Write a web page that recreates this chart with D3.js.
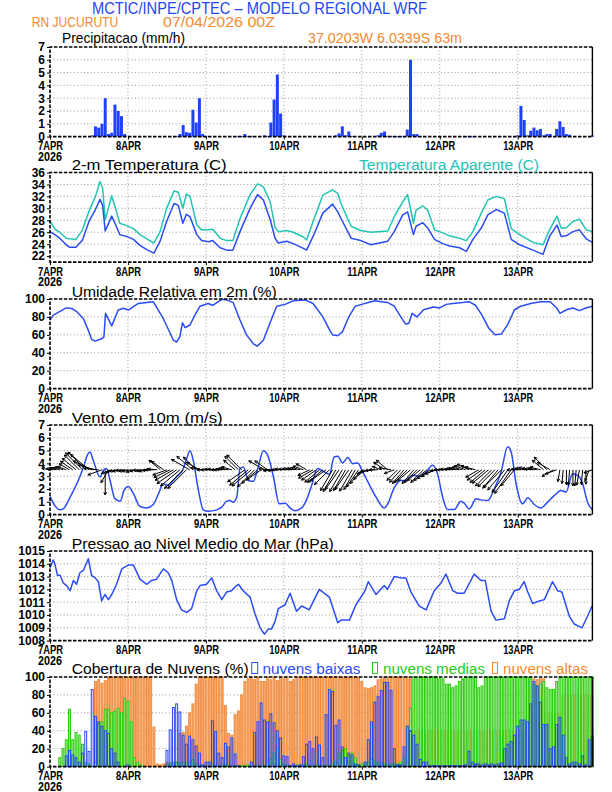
<!DOCTYPE html>
<html>
<head>
<meta charset="utf-8">
<title>Meteograma WRF - RN Jucurutu</title>
<script src="https://d3js.org/d3.v7.min.js"></script>
<style>
body{margin:0;background:#fff;}
svg{display:block;}
text{font-family:"Liberation Sans", Arial, sans-serif;}
.tick text{font-weight:bold;font-size:12px;fill:#000;}
.tick line{stroke:#000;}
.grid line{stroke:#9a9a9a;stroke-width:1;stroke-dasharray:1,2.4;}
</style>
</head>
<body>
<svg id="chart" width="612" height="792"></svg>
<script>

// ---- data (hours since 07APR2026 00Z) ----
var dayHours = [0, 24, 48, 72, 96, 120, 144];
var dayLabels = ['7APR', '8APR', '9APR', '10APR', '11APR', '12APR', '13APR'];
var yearLabel = '2026';

// hourly precipitation (mm/h)
var precip = [
0,0,0,0,0,0,0,0,0,0,0,0,0,0.1,0.8,0.7,1.0,3.0,0.2,0.3,2.5,2.0,1.6,0.2,
0,0,0,0,0,0,0,0,0,0,0,0,0,0,0,0.05,0.2,0.9,0.35,0.3,2.1,1.1,3.0,0.2,
0.05,0,0,0,0,0,0,0,0,0,0.05,0.05,0.2,0.05,0.05,0,0,0,0.1,0.05,1.1,2.9,4.85,1.8,
0.1,0,0,0,0,0,0,0,0,0,0,0.02,0,0,0,0,0.1,0.25,0.8,0.1,0.4,0.05,0,0,
0,0,0,0,0,0.1,0.3,0.4,0.05,0.05,0.02,0.02,0.02,0.02,0.55,6.0,0.2,0.2,0.05,0,0,0,0,0,
0,0,0,0,0,0,0,0,0.02,0.02,0.02,0,0,0,0,0,0,0,0,0,0,0,0,0,
0.1,2.4,1.3,0.1,0.45,0.7,0.5,0.6,0.1,0.2,0.2,0,0.6,1.2,0.75,0.2,0.15,0,0,0,0,0,0,0.1
];

// 2 m temperature and apparent temperature (C)
var tempHours = [0,1.5,3,5,6,8,10,12,14,15.4,16.2,17,19,20,21.5,23.6,25.7,27.7,29.8,32,
33.9,35.9,38.2,39.5,40.9,42,43.1,45.2,46.7,48.8,50.1,52.4,54.4,56.3,58.5,61.6,63.9,65.7,67.8,69.3,
70.3,72.9,74.9,78,79,81,84,87,88.6,89.6,92.7,95.7,98.8,104,106,108.6,110.1,111.9,112.7,114.8,
116.3,118.4,120.9,123,126.1,128.2,130.2,132.8,134.8,137.4,139.9,142,144.6,148.7,151.8,153.8,156.1,157.4,158.9,161,
163,165.1,167];
var temp = [26.1,25.6,25.0,23.9,23.5,23.5,24.7,27.8,29.8,31.5,30.5,26.2,28.7,27.5,25.6,25.3,24.8,23.8,23.1,22.5,
24.5,27.8,30.8,30.5,27.5,29.0,28.6,25.6,24.6,24.4,24.6,23.4,23.0,23.0,26.1,30.0,32.3,31.4,28.1,25.0,
24.2,24.5,24.1,23.3,23.0,25.3,29.2,30.7,29.4,28.3,25.0,24.6,23.9,24.5,26.1,28.9,29.4,25.6,27.0,27.6,
26.7,24.8,24.1,23.7,23.4,22.8,24.8,26.7,28.9,29.8,29.2,24.8,23.9,23.0,22.3,25.3,27.2,25.3,25.4,26.1,
26.4,24.9,24.3];
var tempAp = [27.9,26.5,26.0,25.0,24.9,24.8,26.4,29.5,32.0,34.5,33.4,28.1,32.1,30.3,27.5,27.1,26.6,25.6,24.9,24.2,
26.1,30.0,32.9,32.7,30.0,32.4,32.0,27.2,26.4,26.4,26.5,25.0,24.6,24.6,28.3,32.3,34.1,33.6,31.1,26.8,
26.1,26.3,26.0,25.2,24.7,27.8,32.2,33.1,32.5,30.8,27.0,26.3,26.0,26.2,28.6,31.1,32.3,27.5,29.7,30.4,
29.7,26.4,25.9,25.4,25.0,24.6,26.1,29.2,31.4,32.0,31.6,26.6,25.6,24.3,23.9,26.4,28.7,26.7,26.7,27.8,
28.2,26.4,26.1];

// relative humidity at 2 m (%)
var rhHours = [0,1,5,6.7,8.2,10.3,11.8,12.8,13.9,15.9,16.6,17.1,19,21,22.6,24.1,27.2,31.8,34.9,38,
39,40,40.8,41.6,43.1,44.6,46.2,48.7,50.1,52.9,54.4,56.4,58.5,60.5,62.6,63.8,65.7,67.7,69.8,72.4,
74.9,78.5,81,84,86,87,88.5,90,92,94,96,98,100,102,104,106,108,109.5,110.5,111.5,
113,115,118,120,122,124,127,129,131,133,135,137,139,141,143,145,148,151,154,156,
157,159,161,163,165,167];
var rh = [76.5,82,90,89.5,86,78,65,55,53,55.6,57.8,84,70,87.7,89.6,87.7,95,97,78,54,
52,58,73.5,68,71,82,92,95,93,99.6,99,96,76.5,60,50,47.4,54,73,92,94,
98,99,95,80,66,60,59,63,80,92,94,96,98,97,96,92,80,72,73,84,
80,88,91,90,94,95,96,97,93,82,68,60,61,72,88,92,95,97,97,90,
84,88,90,87,90,92];

// 10 m wind speed (m/s)
var windHours = [0,1.5,3.1,4.1,6.2,8.7,10.3,11.5,12.3,13.3,15.4,16.4,17.4,18.5,20,21.6,22.8,24.1,25.7,27.7,
29.8,31.8,33.4,34.9,36.4,38,39.5,40.8,42.1,43.1,44.1,45.7,47.2,48.7,51.3,52.9,54.4,55.4,56.4,57.5,
58.5,59.5,61.1,62.6,64.1,65.7,67.2,68.8,70.6,72.4,73.9,75.4,77.5,78.8,80.4,82.4,84.5,86,87.5,88.6,
90.1,91.7,93.2,94.7,96.3,97.8,100.4,102.9,103.9,106,108,109.6,111.7,113.7,115.8,117.8,119.3,120.9,122.4,124.5,
126.5,127.5,129.1,131.2,132.7,134.8,136.8,138.9,140.9,142,143.5,145.5,147.1,149.1,151.2,152.7,155.3,157.4,158.9,160.9,
162.5,164,165.5,166.9];
var wind = [1.42,0.7,0.37,0.45,1.36,2.67,3.7,4.64,4.9,4.25,2.94,3.46,3.6,2.67,1.23,1.05,1.89,2.2,1.63,0.63,
0.52,0.79,1.63,2.41,2.28,2.67,3.07,3.46,4.38,4.98,4.25,1.89,0.37,0.26,0.37,0.58,1.05,1.1,0.97,1.36,
3.6,3.72,2.67,2.6,3.72,4.98,4.51,2.94,0.84,0.89,0.52,0.31,0.52,1.05,2.15,3.6,3.33,3.15,4.5,4.56,
4.04,4.46,3.98,4.04,3.33,2.6,1.36,0.52,0.79,2.1,2.67,2.67,3.07,2.99,3.33,3.85,3.2,1.36,0.39,0.39,
1.05,0.89,0.45,1.23,1.15,1.1,2.02,3.33,5.3,4.9,2.41,0.84,1.31,0.79,0.52,0.84,1.5,1.89,1.76,3.2,
3.07,2.41,0.97,0.39];

// hourly wind vectors: pointing angle (deg, 0 = east, counter-clockwise) and magnitude
var vecDir = [
170,170,165,165,160,160,150,145,140,135,135,135,140,155,165,175,200,270,240,200,195,190,190,185,
190,190,195,190,185,190,190,185,180,175,140,145,200,205,210,215,220,225,225,150,140,135,150,170,
180,180,175,175,180,180,175,170,165,140,135,135,215,220,220,225,220,215,150,145,175,185,185,180,
175,175,170,170,170,165,160,150,205,210,215,220,220,215,225,240,240,235,240,240,235,240,240,235,
230,220,200,190,185,180,160,145,140,170,200,225,228,230,225,220,230,225,220,225,220,215,210,200,
185,180,180,175,175,170,170,165,160,155,160,165,210,215,220,220,225,225,230,225,230,235,235,230,
180,175,170,165,170,175,170,165,140,135,150,210,200,260,265,270,265,270,265,260,265,270,250,200
];
var vecMag = [
1.4,1.2,1.2,1.3,1.4,1.6,2,2.5,3,3.5,4,4.2,4,3.5,3,2.5,2.5,4.2,2.5,1.8,1.5,1.5,1.5,1.5,
1.5,1.5,1.4,1.3,1.3,1.3,1.4,1.4,1.5,1.6,2.5,2.5,2.5,3,3.5,4,4.2,4.4,4.4,3.5,3.5,3,2.5,2,
1.5,1.4,1.3,1.3,1.3,1.4,1.5,1.6,1.8,2.5,3.2,3.5,3.5,4,4.2,4,3.5,3,3,2.6,2,1.8,1.6,1.5,
1.5,1.4,1.3,1.3,1.4,1.5,1.8,2,2.2,2.8,3,3.2,3.3,3.3,3.5,4,4.2,4,4.2,4,4,4.1,3.8,3.5,
3,2.5,2,1.8,1.6,1.5,1.6,2.2,2.5,2,1.8,2.5,2.8,3,3,2.8,3,3,2.8,3,2.8,2.6,2.3,2,
1.6,1.5,1.5,1.5,1.4,1.5,1.6,1.8,2,2.2,2,1.8,2.5,3,3.3,3.5,3.8,4,4,4.2,4.4,4.6,4.8,3.5,
1.8,1.6,1.5,1.5,1.5,1.6,1.6,1.8,2.5,3,2.5,2.2,2,2,2.3,2.5,2.6,2.7,2.7,2.6,2.5,2.4,2,1.5
];

// mean sea level pressure (hPa)
var presHours = [0,1,1.5,2.3,3.1,4.1,5.1,6.2,7.2,8.2,9.2,10.3,11.8,12.8,13.9,14.9,15.9,16.9,18,19,
20.5,22.1,24.1,25.7,27.7,29.8,31.3,32.8,34.9,36.4,37.5,39,40.5,42.1,43.6,45.2,46.2,48.2,49.8,51.3,
52.9,54.4,55.9,57,58,59.5,61.6,63.1,64.7,66,67.2,68.2,69.3,70.3,72.4,73.9,75.9,77.5,79.8,82.9,
86,88.6,89.6,92.2,94.2,96.8,98,100.4,102.9,103.9,106,108,109.6,111.1,113.7,115.8,118.3,120.4,121.9,124,
125.5,127.5,130.6,132.7,134,135.8,137.3,139.9,141.4,143,144.5,146,147.1,148.6,150.7,152.2,154.7,156.3,157.6,159.9,
161.4,163.8,165.5,166.9];
var pres = [1013.7,1014.3,1014.0,1013.1,1013.1,1012.5,1012.3,1011.9,1012.7,1012.4,1013.3,1013.5,1014.4,1013.1,1012.9,1012.6,1011.1,1011.6,1011.2,1011.6,
1012.4,1013.6,1013.9,1013.9,1012.8,1012.4,1012.7,1012.8,1013.6,1013.3,1012.7,1011.2,1010.4,1010.2,1010.5,1011.9,1012.3,1012.4,1012.9,1011.9,
1011.2,1011.8,1011.9,1012.2,1012.4,1011.9,1011.4,1010.1,1009.0,1008.5,1008.9,1008.9,1009.5,1010.5,1010.8,1011.7,1010.3,1010.7,1010.4,1012.0,
1011.4,1009.4,1009.6,1009.6,1010.8,1011.8,1012.6,1011.6,1012.3,1012.0,1013.0,1012.9,1012.9,1011.8,1010.7,1010.4,1011.9,1012.5,1013.2,1011.9,
1011.7,1011.7,1013.2,1012.7,1012.7,1010.3,1009.6,1009.7,1011.1,1011.9,1012.0,1012.6,1011.8,1010.9,1011.1,1011.2,1012.6,1011.9,1011.8,1009.9,
1009.3,1009.0,1009.9,1010.7];

// hourly cloud cover (%)
var cloudHigh = [
0,0,0,0,0,0,0,0,0,0,0,0,0,0,95,97,93,96,100,100,100,100,100,100,
100,100,100,100,100,100,100,100,44,3,2,3,5,3,2,5,37,38,45,60,70,92,100,100,
100,100,100,100,100,100,68,37,35,58,62,80,95,98,100,97,100,95,95,100,97,100,96,100,
98,100,95,97,100,100,100,100,100,100,100,100,100,100,100,100,100,100,100,100,100,100,100,100,
95,88,87,88,90,97,98,100,100,100,100,100,100,100,100,98,40,40,40,40,40,40,40,40,
40,40,40,40,40,40,40,40,40,40,40,40,40,40,40,40,40,40,40,40,40,40,40,40,
40,40,40,40,98,98,97,98,98,60,60,60,60,60,80,80,80,80,80,80,80,80,80,80
];
var cloudMid = [
0,0,0,10,20,30,64,30,38,35,25,5,3,0,5,48,50,64,64,60,62,65,60,76,
73,50,10,5,2,0,0,0,0,0,0,0,2,4,5,5,4,5,3,5,8,3,2,1,
1,1,2,1,1,1,2,1,1,1,1,1,1,2,1,1,1,1,1,5,8,15,20,8,
3,2,1,1,2,1,2,3,2,1,2,2,1,2,2,2,5,15,18,20,12,15,10,2,
3,4,5,8,6,5,4,3,3,3,3,3,5,10,45,65,100,100,100,100,100,100,100,100,
98,98,92,92,88,90,95,98,100,100,100,100,88,90,100,100,100,100,100,100,100,100,100,100,
100,100,100,100,100,92,90,92,95,88,86,86,95,100,100,100,100,100,100,100,100,100,100,100
];
var cloudLow = [
0,0,0,0,0,12,18,13,10,5,15,39,17,86,56,50,45,40,37,20,15,5,0,0,
2,0,0,0,0,0,0,0,0,0,0,0,18,41,66,70,61,35,25,34,30,23,15,2,
5,5,51,39,15,10,26,22,32,14,1,0,0,0,5,38,50,71,52,50,59,49,40,32,
12,11,1,3,1,2,11,25,28,20,33,24,10,58,86,84,46,52,22,10,15,13,3,2,
0,5,30,50,72,78,85,94,94,85,20,2,2,22,45,40,35,25,8,5,5,1,1,1,
1,1,1,1,1,1,1,1,2,17,5,3,3,2,3,2,3,2,3,4,20,25,28,35,
45,52,52,50,70,95,90,72,47,47,20,22,47,55,35,10,3,5,5,3,12,2,30,34
];

// ---- layout ----
var blueC = '#2b4cf2', cyanC = '#22c4b4', orangeC = '#f58a32', greenC = '#22cc22';
var x0 = 50, x1 = 592.4, panelH = 89.6;
var panelTop = [47, 172.5, 299, 425, 551, 677];

var svg = d3.select('#chart');
var x = d3.scaleLinear().domain([0, 167]).range([x0, x1]);

function txt(s, tx, ty, size, color, w) {
	var t = svg.append('text').attr('x', tx).attr('y', ty)
		.attr('font-size', size).attr('fill', color).text(s);
	if (w) t.attr('textLength', w).attr('lengthAdjust', 'spacingAndGlyphs');
	return t;
}

function makePanel(i, domain, ticks) {
	var top = panelTop[i], bot = top + panelH;
	var y = d3.scaleLinear().domain(domain).range([bot, top]);
	var g = svg.append('g');

	g.append('g').attr('class', 'grid').selectAll('line')
		.data(ticks.filter(function(t){ return t > domain[0] && t < domain[1]; }))
		.enter().append('line')
			.attr('x1', x0).attr('x2', x1).attr('y1', y).attr('y2', y);
	g.append('g').attr('class', 'grid').selectAll('line')
		.data(dayHours.slice(1))
		.enter().append('line')
			.attr('x1', x).attr('x2', x).attr('y1', top).attr('y2', bot);

	var marks = g.append('g');

	var ya = g.append('g').attr('transform', 'translate(' + x0 + ',0)')
		.call(d3.axisLeft(y).tickValues(ticks).tickSize(3).tickPadding(2).tickFormat(d3.format('d')));
	ya.select('.domain').remove();

	var xa = g.append('g').attr('transform', 'translate(0,' + bot + ')')
		.call(d3.axisBottom(x).tickValues(dayHours).tickSize(3).tickPadding(2)
			.tickFormat(function(d, k){ return dayLabels[k]; }));
	xa.select('.domain').remove();
	xa.selectAll('text').attr('font-size', 13)
		.attr('textLength', function(d, k){ return dayLabels[k].length > 4 ? 30 : 25; })
		.attr('lengthAdjust', 'spacingAndGlyphs');

	g.append('text').attr('x', 38).attr('y', bot + 24)
		.attr('font-size', 13).attr('font-weight', 'bold')
		.attr('textLength', 24).attr('lengthAdjust', 'spacingAndGlyphs')
		.text(yearLabel);

	// frame
	var fr = g.append('g').attr('fill', 'none').attr('stroke', '#000');
	fr.append('path').attr('d', 'M' + x1 + ',' + top + 'H' + x0 + 'V' + bot + 'H' + x1)
		.attr('stroke-width', 1.6).attr('stroke-dasharray', '3.5,1.5');
	fr.append('path').attr('d', 'M' + x1 + ',' + top + 'V' + bot).attr('stroke-width', 1.4);

	return {marks: marks, y: y, top: top, bot: bot};
}

function drawLine(p, hours, vals, color, curve) {
	var line = d3.line()
		.x(function(d, k){ return x(hours[k]); })
		.y(function(d){ return p.y(d); });
	if (curve) line.curve(curve);
	p.marks.append('path').datum(vals)
		.attr('d', line).attr('fill', 'none')
		.attr('stroke', color).attr('stroke-width', 1.5)
		.attr('stroke-linejoin', 'round');
}

var hoursAll = d3.range(precip.length);
var bw = x(0.92) - x(0);

// ---- header ----
txt('MCTIC/INPE/CPTEC \u2013 MODELO REGIONAL WRF', 92, 13.5, 16, '#2346f5', 335);
txt('RN JUCURUTU', 31.7, 26.7, 14, orangeC, 86.5);
txt('07/04/2026 00Z', 163, 26.7, 14, orangeC, 112);
txt('Precipitacao (mm/h)', 62, 43, 14, '#000', 123);
txt('37.0203W 6.0339S 63m', 308, 42.7, 14, orangeC, 154);

// ---- 1 precipitation ----
var p1 = makePanel(0, [0, 7], d3.range(0, 8));
precip.forEach(function(d, k){
	if (d <= 0) return;
	p1.marks.append('rect')
		.attr('x', x(hoursAll[k]) - bw / 2).attr('width', bw)
		.attr('y', p1.y(d)).attr('height', Math.max(0.8, p1.y(0) - p1.y(d)))
		.attr('fill', '#2040ff');
});

// ---- 2 temperature ----
var p2 = makePanel(1, [21, 36], d3.range(22, 37, 2));
drawLine(p2, tempHours, tempAp, cyanC);
drawLine(p2, tempHours, temp, blueC);
txt('2-m Temperatura (C)', 71.7, 170, 14, '#000', 155);
txt('Temperatura Aparente (C)', 359, 170, 14, cyanC, 180);

// ---- 3 relative humidity ----
var p3 = makePanel(2, [0, 100], d3.range(0, 101, 20));
drawLine(p3, rhHours, rh, blueC);
txt('Umidade Relativa em 2m (%)', 71.7, 296.5, 14, '#000', 205);

// ---- 4 wind ----
var p4 = makePanel(3, [0, 7], d3.range(0, 8));
drawLine(p4, windHours, wind, blueC, d3.curveMonotoneX);
var vy = p4.y(3.5), pxPer = 6;
var vecs = p4.marks.append('g').attr('stroke', '#000').attr('stroke-width', 1).attr('fill', 'none');
vecDir.forEach(function(a, k){
	var r = a * Math.PI / 180, len = vecMag[k] * pxPer;
	var tx = x(hoursAll[k]), ty = vy;
	var hx = tx + len * Math.cos(r), hy = ty - len * Math.sin(r);
	var hl = 3.2, s = 0.45;
	var b1 = r + Math.PI - s, b2 = r + Math.PI + s;
	vecs.append('path').attr('d',
		'M' + tx + ',' + ty + 'L' + hx + ',' + hy +
		'M' + (hx + hl * Math.cos(b1)) + ',' + (hy - hl * Math.sin(b1)) +
		'L' + hx + ',' + hy +
		'L' + (hx + hl * Math.cos(b2)) + ',' + (hy - hl * Math.sin(b2)));
});
txt('Vento em 10m (m/s)', 71.7, 422.5, 14, '#000', 151);

// ---- 5 pressure ----
var p5 = makePanel(4, [1008, 1015], d3.range(1008, 1016));
drawLine(p5, presHours, pres, blueC);
txt('Pressao ao Nivel Medio do Mar (hPa)', 71.7, 548.5, 14, '#000', 262);

// ---- 6 clouds ----
var p6 = makePanel(5, [0, 100], d3.range(0, 101, 20));
var cw = x(0.9) - x(0);
function cloudBars(vals, fill, stroke) {
	var gg = p6.marks.append('g');
	vals.forEach(function(d, k){
		gg.append('rect')
			.attr('x', x(hoursAll[k]) - cw / 2 + 0.5).attr('width', cw - 1)
			.attr('y', p6.y(d)).attr('height', p6.y(0) - p6.y(d))
			.attr('fill', fill).attr('stroke', stroke).attr('stroke-width', 1);
	});
}
cloudBars(cloudHigh, '#f7ac70', '#f08a3c');
cloudBars(cloudMid, '#9cf08c', '#2ccc10');
cloudBars(cloudLow, 'none', '#2a48f0');

txt('Cobertura de Nuvens (%)', 71.7, 674, 14, '#000', 177);
svg.append('rect').attr('x', 251.7).attr('y', 662.5).attr('width', 6).attr('height', 11)
	.attr('fill', 'none').attr('stroke', blueC).attr('stroke-width', 1);
txt('nuvens baixas', 262.5, 674, 14, blueC, 98);
svg.append('rect').attr('x', 372.5).attr('y', 662.5).attr('width', 5).attr('height', 11)
	.attr('fill', 'none').attr('stroke', greenC).attr('stroke-width', 1);
txt('nuvens medias', 383, 674, 14, greenC, 102);
svg.append('rect').attr('x', 492.5).attr('y', 662.5).attr('width', 5).attr('height', 11)
	.attr('fill', 'none').attr('stroke', orangeC).attr('stroke-width', 1);
txt('nuvens altas', 503, 674, 14, orangeC, 85);

</script>
</body>
</html>
